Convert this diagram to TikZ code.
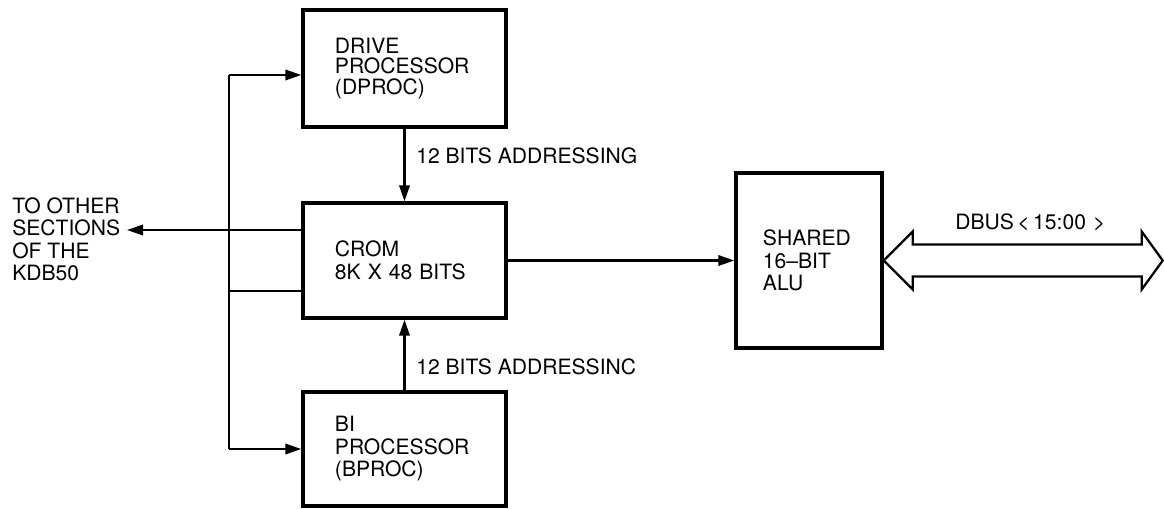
\documentclass[tikz,border=0pt]{standalone}
\usepackage{fontspec}
\setmainfont{TeX Gyre Heros}
\usetikzlibrary{arrows.meta}

\begin{document}
\begin{tikzpicture}[x=0.025cm,y=-0.025cm,
        font=\fontsize{15}{16}\selectfont,
        unit/.style={draw,line width=2.4pt,align=left,inner xsep=0.8cm,inner ysep=0pt,text width=3.475cm},
        lbl/.style={inner sep=0pt,anchor=west,align=left},
        wire/.style={line width=1.6pt},
        sig/.style={wire,-{Triangle[length=4mm,width=2.6mm]}}]
            \fill[white] (0,0) rectangle (1164,508);

            % Blocks
            \node[unit,minimum height=2.925cm,font=\fontsize{15}{14.5}\selectfont] (dproc) at (404.5,68.5) {DRIVE\\PROCESSOR\\(DPROC)};
            \node[unit,minimum height=2.875cm] (crom) at (404.5,260.5) {CROM\\8K X 48 BITS};
            \node[unit,minimum height=2.85cm] (bproc) at (404.5,449) {BI\\PROCESSOR\\(BPROC)};
            \node[unit,minimum height=4.375cm,inner xsep=0.675cm,text width=2.3cm] (alu) at (809,260.5) {SHARED\\16--BIT\\ALU};

            % Labels
            \node[lbl] (addrd) at (416,156) {12 BITS ADDRESSING};
            \node[lbl] (addrb) at (416,367) {12 BITS ADDRESSINC};
            \node[lbl] (dbus) at (955,222) {DBUS\,<\,15:00\,\,>};
            \node[lbl,anchor=north west] (others) at (12,197) {TO OTHER\\SECTIONS\\OF THE\\KDB50};

            % Bus on the left
            \coordinate (btop) at (229,75);
            \coordinate (bmid) at (229,291);
            \coordinate (bbot) at (229,449);
            \coordinate (out) at (127,230);
            \draw[wire] (btop) -- (bbot);
            \draw[sig] (btop) -- (btop -| dproc.west);
            \draw[sig] (bbot) -- (bbot -| bproc.west);
            \draw[wire] (bmid) -- (bmid -| crom.west);
            \draw[sig] (out -| crom.west) -- (out);

            % Addressing and data
            \draw[sig] (dproc) -- (crom);
            \draw[sig] (bproc) -- (crom);
            \draw[sig] (crom) -- (alu);

            % DBUS
            \draw[wire] (alu.east) -- ++(29,-29) -- ++(0,13) -- ++(229,0) -- ++(0,-13) -- ++(21,29)
                -- ++(-21,29) -- ++(0,-13) -- ++(-229,0) -- ++(0,13) -- cycle;
        \end{tikzpicture}
\end{document}
